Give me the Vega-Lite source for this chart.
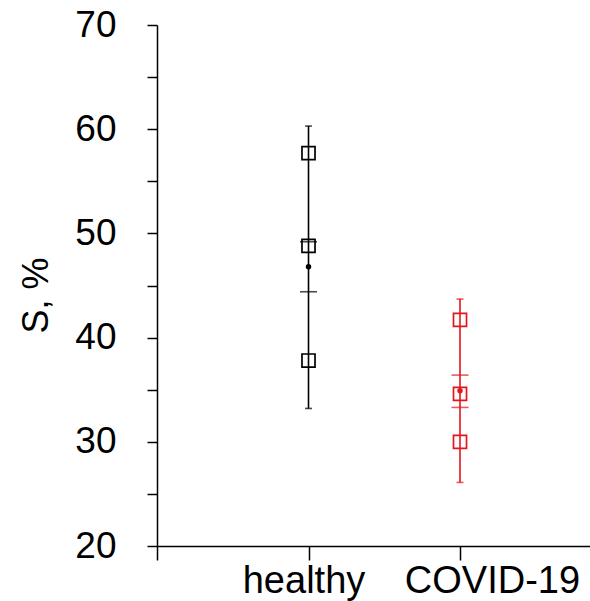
{
  "$schema": "https://vega.github.io/schema/vega-lite/v6.json",
  "width": 433,
  "height": 521,
  "autosize": {"type": "none"},
  "padding": {"left": 157, "top": 25, "right": 0, "bottom": 55},
  "background": "white",
  "config": {
    "view": {"stroke": null},
    "font": "Liberation Sans",
    "axis": {"domainColor": "black", "tickColor": "black", "domainWidth": 1.5, "tickWidth": 1.5, "labelColor": "black", "titleColor": "black", "grid": false, "labelFont": "Liberation Sans", "titleFont": "Liberation Sans", "titleFontWeight": "normal"}
  },
  "datasets": {
    "points": [
      {"group": "healthy", "x": 1, "S": 57.7},
      {"group": "healthy", "x": 1, "S": 48.8},
      {"group": "healthy", "x": 1, "S": 37.8},
      {"group": "COVID-19", "x": 2, "S": 41.7},
      {"group": "COVID-19", "x": 2, "S": 34.6},
      {"group": "COVID-19", "x": 2, "S": 30.0}
    ],
    "stats": [
      {"group": "healthy", "x": 1, "mean": 46.8, "sd_lo": 33.2, "sd_hi": 60.3, "se_lo": 44.4, "se_hi": 49.2},
      {"group": "COVID-19", "x": 2, "mean": 34.9, "sd_lo": 26.1, "sd_hi": 43.7, "se_lo": 33.3, "se_hi": 36.4}
    ]
  },
  "encoding": {
    "x": {
      "field": "x", "type": "quantitative",
      "scale": {"domain": [0, 2.858], "nice": false, "zero": false},
      "axis": {
        "title": null, "values": [0, 1, 2], "tickSize": 14, "labelFontSize": 38, "labelPadding": 2,
        "labelExpr": "datum.value == 1 ? 'healthy' : datum.value == 2 ? 'COVID-19' : ''",
        "labelFlush": false, "labelOverlap": false,
        "labelOffset": {"condition": {"test": "datum.value == 2", "value": 32}, "value": -5}
      }
    },
    "color": {"field": "group", "type": "nominal", "scale": {"domain": ["healthy", "COVID-19"], "range": ["black", "#e3161d"]}, "legend": null}
  },
  "layer": [
    {
      "data": {"name": "stats"},
      "mark": {"type": "rule", "strokeWidth": 1.6},
      "encoding": {
        "y": {"field": "sd_lo", "type": "quantitative", "scale": {"domain": [20, 70], "nice": false, "zero": false},
          "axis": {"title": "S, %", "titleFontSize": 36, "titleX": -121, "titleY": 270, "titleAngle": -90, "titleAlign": "center", "titleBaseline": "middle",
            "values": [20, 25, 30, 35, 40, 45, 50, 55, 60, 65, 70], "tickSize": 10, "labelFontSize": 37, "labelPadding": 31,
            "labelExpr": "datum.value % 10 == 0 ? datum.label : ''", "labelFlush": false, "labelOverlap": false, "labelBaseline": "middle"}},
        "y2": {"field": "sd_hi"}
      }
    },
    {
      "data": {"name": "stats"},
      "mark": {"type": "tick", "orient": "horizontal", "size": 7, "thickness": 1.6},
      "encoding": {"y": {"field": "sd_lo", "type": "quantitative"}}
    },
    {
      "data": {"name": "stats"},
      "mark": {"type": "tick", "orient": "horizontal", "size": 7, "thickness": 1.6},
      "encoding": {"y": {"field": "sd_hi", "type": "quantitative"}}
    },
    {
      "data": {"name": "stats"},
      "mark": {"type": "tick", "orient": "horizontal", "size": 17, "thickness": 1.6},
      "encoding": {"y": {"field": "se_lo", "type": "quantitative"}}
    },
    {
      "data": {"name": "stats"},
      "mark": {"type": "tick", "orient": "horizontal", "size": 17, "thickness": 1.6},
      "encoding": {"y": {"field": "se_hi", "type": "quantitative"}}
    },
    {
      "data": {"name": "points"},
      "mark": {"type": "point", "shape": "square", "filled": false, "size": 170, "strokeWidth": 1.7, "opacity": 1},
      "encoding": {"y": {"field": "S", "type": "quantitative"}}
    },
    {
      "data": {"name": "stats"},
      "mark": {"type": "point", "shape": "circle", "filled": true, "size": 30, "opacity": 1},
      "encoding": {"y": {"field": "mean", "type": "quantitative"}}
    }
  ]
}
